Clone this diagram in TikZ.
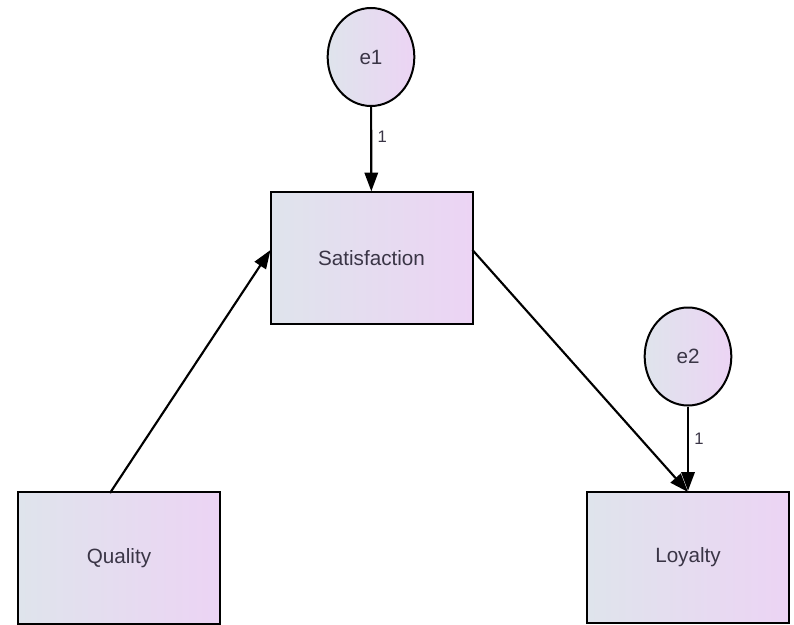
\documentclass[tikz,border=0pt]{standalone}
\usepackage{fontspec}
\setmainfont{Liberation Sans}
\usetikzlibrary{arrows.meta,shapes.geometric}
\definecolor{fillL}{HTML}{DFE4EC}
\definecolor{fillR}{HTML}{ECD4F4}
\definecolor{txt}{HTML}{3A3546}
\tikzset{
  obs/.style={draw=black, line width=1.5pt, left color=fillL, right color=fillR,
    minimum width=151.5pt, minimum height=98.5pt, inner sep=0pt,
    text=txt, font=\fontsize{15.5}{18}\selectfont},
  err/.style={draw=black, line width=1.5pt, ellipse, left color=fillL, right color=fillR,
    minimum width=65pt, minimum height=73.5pt, inner sep=0pt,
    text=txt, font=\fontsize{15.5}{18}\selectfont},
  semarrow/.style={draw=black, line width=1.6pt, -{Triangle[length=14pt,width=10pt]}},
  coef/.style={text=txt, font=\fontsize{12.5}{14}\selectfont, inner sep=0pt}
}
\begin{document}
\begin{tikzpicture}[x=0.75pt, y=-0.75pt]
\useasboundingbox (0,0) rectangle (794,625);
\node[obs] (sat) at (371.5,258) {Satisfaction};
\node[obs] (qual) at (119,558) {Quality};
\node[obs] (loy) at (688,557.5) {Loyalty};
\node[err] (e1) at (371,57) {e1};
\node[err] (e2) at (688,356.5) {e2};
\draw[semarrow] (e1) -- (sat) node[coef, pos=0.35, right=4pt] {1};
\draw[semarrow] (e2) -- (loy) node[coef, pos=0.38, right=4pt] {1};
\coordinate (q1) at (110,493);
\coordinate (s1) at (270.5,250);
\coordinate (s2) at (472.5,250);
\coordinate (l1) at (688,492);
\draw[semarrow] (q1) -- (s1);
\draw[semarrow] (s2) -- (l1);
\end{tikzpicture}
\end{document}
